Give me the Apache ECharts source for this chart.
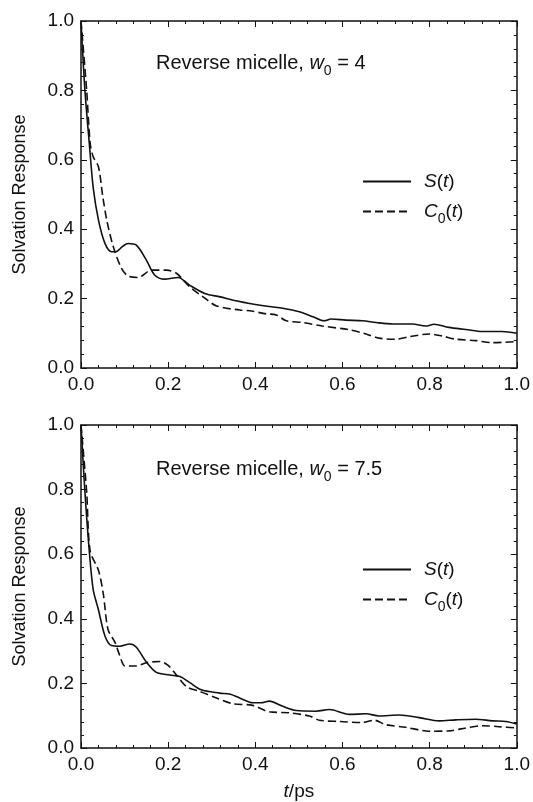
<!DOCTYPE html>
<html>
<head>
<meta charset="utf-8">
<script src="https://cdn.jsdelivr.net/npm/echarts@6/dist/echarts.min.js"></script>
<style>
  html, body { margin: 0; padding: 0; background: #fff; }
  #chart { width: 533px; height: 802px; }
</style>
</head>
<body>
<div id="chart"></div>
<script>
// upper panel, w0 = 4
const tS4 = [0, 0.009, 0.019, 0.028, 0.04, 0.055, 0.07, 0.08, 0.095, 0.108, 0.127, 0.15, 0.169, 0.192, 0.223, 0.249, 0.284, 0.319, 0.356, 0.387, 0.432, 0.463, 0.501, 0.532, 0.558, 0.574, 0.608, 0.646, 0.677, 0.715, 0.76, 0.791, 0.81, 0.844, 0.883, 0.921, 0.966, 1.0];
const vS4 = [1.0, 0.80, 0.648, 0.52, 0.427, 0.359, 0.335, 0.335, 0.35, 0.359, 0.354, 0.311, 0.268, 0.256, 0.261, 0.239, 0.215, 0.205, 0.194, 0.186, 0.177, 0.172, 0.162, 0.148, 0.136, 0.141, 0.138, 0.136, 0.131, 0.127, 0.127, 0.121, 0.126, 0.117, 0.111, 0.105, 0.105, 0.10];
const tC4 = [0, 0.013, 0.021, 0.028, 0.04, 0.05, 0.059, 0.074, 0.093, 0.108, 0.131, 0.162, 0.196, 0.219, 0.249, 0.28, 0.311, 0.364, 0.387, 0.425, 0.448, 0.471, 0.509, 0.554, 0.616, 0.654, 0.684, 0.722, 0.753, 0.799, 0.829, 0.86, 0.905, 0.944, 1.0];
const vC4 = [1.0, 0.80, 0.648, 0.609, 0.58, 0.494, 0.427, 0.35, 0.287, 0.265, 0.261, 0.282, 0.282, 0.273, 0.234, 0.205, 0.179, 0.167, 0.165, 0.156, 0.153, 0.136, 0.131, 0.121, 0.110, 0.098, 0.086, 0.083, 0.090, 0.098, 0.092, 0.083, 0.079, 0.073, 0.076];

// lower panel, w0 = 7.5
const tS75 = [0, 0.009, 0.019, 0.028, 0.04, 0.055, 0.07, 0.089, 0.112, 0.127, 0.15, 0.173, 0.204, 0.227, 0.249, 0.276, 0.318, 0.341, 0.364, 0.394, 0.413, 0.432, 0.463, 0.494, 0.539, 0.57, 0.616, 0.654, 0.684, 0.73, 0.776, 0.822, 0.86, 0.905, 0.944, 0.975, 1.0];
const vS75 = [1.0, 0.793, 0.61, 0.49, 0.428, 0.347, 0.317, 0.315, 0.322, 0.312, 0.266, 0.234, 0.226, 0.221, 0.203, 0.18, 0.17, 0.167, 0.155, 0.14, 0.14, 0.145, 0.129, 0.116, 0.114, 0.119, 0.104, 0.106, 0.099, 0.102, 0.094, 0.084, 0.087, 0.089, 0.084, 0.082, 0.074];
const tC75 = [0, 0.013, 0.021, 0.04, 0.051, 0.062, 0.078, 0.089, 0.101, 0.127, 0.15, 0.181, 0.2, 0.219, 0.242, 0.273, 0.311, 0.349, 0.394, 0.432, 0.478, 0.524, 0.547, 0.593, 0.646, 0.673, 0.7, 0.745, 0.799, 0.844, 0.883, 0.921, 0.959, 1.0];
const vC75 = [1.0, 0.793, 0.61, 0.55, 0.479, 0.367, 0.327, 0.286, 0.254, 0.254, 0.264, 0.268, 0.256, 0.226, 0.19, 0.175, 0.155, 0.137, 0.132, 0.112, 0.109, 0.099, 0.086, 0.082, 0.079, 0.086, 0.072, 0.064, 0.052, 0.053, 0.062, 0.069, 0.066, 0.062];

const panelTitles = ['Reverse micelle, {i|w}{sub|0} = 4', 'Reverse micelle, {i|w}{sub|0} = 7.5'];
const seriesNames = ['S(t)', 'C0(t)'];

const FONT = 'Liberation Sans, Arial, sans-serif';
const pair = (t, v) => t.map((x, i) => [x, v[i]]);

const chart = echarts.init(document.getElementById('chart'));

function axis(gridIndex, position, labels, extra) {
  return Object.assign({
    type: 'value', gridIndex: gridIndex, position: position,
    min: 0, max: 1, interval: 0.2,
    axisLine: { show: true, onZero: false, lineStyle: { color: '#111', width: 1.5 } },
    axisTick: { show: true, inside: true, length: 6, lineStyle: { color: '#111', width: 1 } },
    minorTick: { show: true, splitNumber: 5, length: 3, lineStyle: { color: '#111', width: 1 } },
    splitLine: { show: false },
    axisLabel: {
      show: labels, margin: 7, color: '#111', fontFamily: FONT, fontSize: 19,
      formatter: v => v.toFixed(1)
    }
  }, extra || {});
}

const yName = {
  name: 'Solvation Response', nameLocation: 'middle', nameGap: 52,
  nameTextStyle: { color: '#111', fontFamily: FONT, fontSize: 18 }
};

// italic letters and dropped subscript
function richText(size) {
  return {
    i: { fontStyle: 'italic', fontFamily: FONT, fontSize: size, color: '#111' },
    sub: { fontFamily: FONT, fontSize: 14, color: '#111', padding: [15, 0, 0, 0] }
  };
}

function legendName(name) {
  return name === 'S(t)' ? '{i|S}({i|t})' : '{i|C}{sub|0}({i|t})';
}

function line(name, data, xi, yi, dashed) {
  return {
    name: name, type: 'line', xAxisIndex: xi, yAxisIndex: yi,
    data: data, smooth: 0.3, symbol: 'none', color: '#111',
    lineStyle: { color: '#111', width: 1.6, type: dashed ? [8, 4] : 'solid' }
  };
}

const option = {
  animation: false,
  backgroundColor: '#fff',
  grid: [
    { left: 81, top: 21, width: 437, height: 347 },
    { left: 81, top: 425, width: 437, height: 329 }
  ],
  title: panelTitles.map((txt, i) => ({
    text: txt, left: 151, top: i === 0 ? 44 : 450,
    textStyle: { fontFamily: FONT, fontSize: 20, fontWeight: 'normal', color: '#111', rich: richText(20) }
  })),
  legend: [167, 555].map(top => ({
    data: seriesNames, orient: 'vertical', left: 357, top: top,
    itemWidth: 48, itemHeight: 14, itemGap: 11,
    itemStyle: { opacity: 0, borderWidth: 0 },
    formatter: legendName,
    textStyle: { fontFamily: FONT, fontSize: 19, color: '#111', padding: [0, 0, 0, 8], rich: richText(19) }
  })),
  xAxis: [
    axis(0, 'bottom', true),
    axis(0, 'top', false),
    axis(1, 'bottom', true, {
      name: '{i|t}/ps', nameLocation: 'middle', nameGap: 34,
      nameTextStyle: { color: '#111', fontFamily: FONT, fontSize: 19, rich: richText(19) }
    }),
    axis(1, 'top', false)
  ],
  yAxis: [
    axis(0, 'left', true, yName),
    axis(0, 'right', false),
    axis(1, 'left', true, yName),
    axis(1, 'right', false)
  ],
  series: [
    line('S(t)', pair(tS4, vS4), 0, 0, false),
    line('C0(t)', pair(tC4, vC4), 0, 0, true),
    line('S(t)', pair(tS75, vS75), 2, 2, false),
    line('C0(t)', pair(tC75, vC75), 2, 2, true)
  ]
};

chart.setOption(option);
</script>
</body>
</html>
